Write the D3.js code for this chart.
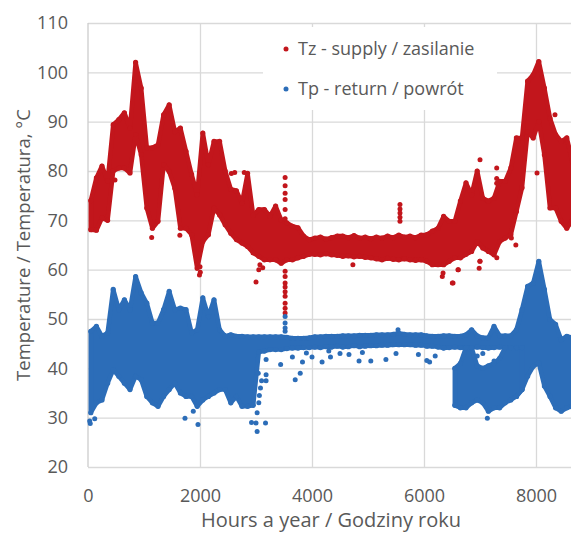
<!DOCTYPE html>
<html>
<head>
<meta charset="utf-8">
<script src="https://cdn.jsdelivr.net/npm/d3@7"></script>
<style>
  html, body { margin: 0; padding: 0; background: #fff; }
  svg { display: block; font-family: "Open Sans", sans-serif; }
</style>
</head>
<body>
<svg id="chart" width="571" height="534"></svg>
<script>
// ---------- data (100-hour bins) ----------
const binStep = 100;                         // hours per bin
const binHours = d3.range(0, 8800, binStep); // bin start hours 0..8700

const supplyHigh = [74, 78.6, 81, 78, 89.4, 90.4, 91.8, 88.7, 102, 96.8,
  84.7, 84.7, 85.3, 91.4, 93.4, 88, 88.7, 84, 79.3, 75.2,
  87.7, 81.3, 86, 86, 80, 76.3, 76, 73.5, 79.5, 71,
  72.2, 72.2, 70.8, 72.9, 70.1, 69.5, 68.8, 68.5, 66.8, 66.1,
  66.4, 66.6, 66.2, 66.5, 66.8, 66.8, 66.5, 66.9, 66.4, 66.6,
  66.3, 66.6, 66.4, 66.8, 66.5, 67, 66.6, 66.8, 66.5, 67,
  67.1, 67.8, 68.4, 70.8, 69.8, 69.8, 73.9, 77.6, 75.2, 80,
  74.5, 73.9, 74.5, 77.9, 77.9, 80.6, 86.7, 86.7, 98.2, 99.5,
  102.2, 96.8, 90.7, 87.4, 86, 86.7, 82, 78];
const supplyLow = [68.1, 68, 70.5, 70, 80, 80.6, 80.6, 79.6, 87.4, 83.3,
  72.5, 68.4, 69.8, 81.3, 79.9, 76.5, 68.4, 68.4, 67.1, 60.3,
  65.7, 67.1, 72.5, 71.1, 69.1, 67.4, 66.1, 65.4, 64.7, 63.4,
  62.7, 62, 62, 62, 61.3, 62, 62, 62.4, 62.7, 63.1,
  63.1, 63, 63.2, 63, 62.9, 62.7, 62.8, 62.6, 62.7, 62.5,
  62.4, 62.2, 62, 62.3, 62.1, 62, 62.2, 62, 61.9, 62,
  61.7, 61, 61, 61, 61.7, 62.4, 62.4, 63.1, 63.7, 65.7,
  64.4, 63.7, 63, 65.7, 66.4, 67.1, 71.8, 76.6, 88, 86.7,
  90, 83.3, 72.5, 72.5, 69.8, 68.4, 70, 68];

const returnHigh = [47.5, 48.5, 46.5, 47.2, 56, 51.9, 53.9, 51.9, 58.6, 55.3,
  53.2, 49.2, 49.2, 51.9, 55.6, 51.9, 52.2, 51.9, 47.2, 47.8,
  54.3, 50.5, 53.9, 47.8, 46.5, 46.8, 46.5, 46.5, 46.4, 46.4,
  46.4, 46.4, 46.4, 46.4, 46.4, 46.3, 46.1, 46.1, 46.1, 46.2,
  46.4, 46.4, 46.5, 46.5, 46.5, 46.6, 46.6, 46.6, 46.7, 46.7,
  46.7, 46.8, 46.8, 46.8, 46.9, 47.1, 46.9, 46.8, 46.8, 46.8,
  46.6, 46.5, 46.5, 46.6, 46.6, 46.5, 46.5, 46.8, 47.8, 46.6,
  46.2, 46.2, 48.5, 46.6, 46.6, 46.6, 47.8, 51.9, 56.6, 57.3,
  61.7, 56, 49.9, 48.9, 45.8, 46.5, 46.2, 46];
const returnLow = [31, 33, 33.6, 37, 39.7, 38.4, 37, 35.7, 38.4, 37.7,
  34.3, 33, 32.3, 34.3, 35.7, 37, 35, 34.3, 34.3, 32.3,
  33.6, 34.3, 35, 35.7, 35.7, 33, 34.3, 32.3, 32.3, 32.5,
  43.3, 43.5, 43.8, 43.8, 43.8, 44, 44.1, 44.1, 44.2, 44.2,
  44.3, 44.2, 44.4, 44.3, 44.5, 44.3, 44.4, 44.6, 44.4, 44.5,
  44.6, 44.6, 44.7, 44.7, 44.8, 44.8, 44.8, 44.8, 44.7, 44.7,
  44.5, 44.5, 44.3, 44.1, 44.2, 44.3, 44.2, 44.1, 44.2, 44.3,
  44.2, 44.1, 44.2, 44.3, 44.2, 44.1, 34.3, 35.7, 38.4, 40.4,
  41.1, 36.4, 34.3, 32, 31.3, 32, 32.3, 33];

// separate lower cluster of the return series, 6500-7700 h
const clusterHours = d3.range(6500, 7800, binStep);
const clusterHigh = [40, 41, 44.2, 44.2, 40.5, 40, 40.5, 41, 42, 44.2, 44.2, 44.2, 44.2];
const clusterLow  = [32.5, 32, 32, 33, 33.6, 33, 31.3, 32, 32, 33, 33.6, 34.3, 35.7];

// isolated points outside the dense bands
const supplyOutlierHours  = [482, 1137, 1640, 1990, 2000, 2005, 2560, 2620, 2790, 3000, 3050, 3120, 3070,
  3520, 3520, 3520, 3520, 3520, 3520, 3520, 3520, 3520, 3520, 3520, 3520, 3520, 3520, 3520,
  4730, 5571, 5571, 5571, 5571, 5571, 6327, 6340, 6506, 6518, 6607, 6613, 6985, 6998, 7000, 7000,
  7298, 7298, 7298, 7300, 7560, 7640, 7684, 8018, 8339];
const supplyOutlierValues = [78.2, 66.5, 67, 58.9, 60.6, 59.5, 79.5, 79.7, 79.7, 57.5, 60, 60.4, 61,
  78.7, 77, 75.5, 74.2, 72.2, 70.3, 59.7, 58.6, 57.3, 56.5, 55.5, 54.6, 53.2, 52.2, 51.2,
  61, 73.2, 72.3, 71.5, 70.6, 69.8, 58.6, 59.3, 57.3, 57.3, 60, 60, 60.3, 61.7, 82.3, 61.7,
  80.6, 78.5, 77.5, 62.4, 66.4, 65, 86, 79.6, 91.4];

const returnOutlierHours  = [30, 40, 120, 1732, 1880, 1964, 2920, 3000, 3020, 3170, 3020, 3050, 3060, 3080,
  3100, 3040, 3180, 3180, 3180, 3700, 3790, 3440, 3520, 3520, 3520, 3520,
  3650, 3830, 3900, 4000, 4180, 4300, 4330, 4500, 4660, 4840, 4900, 5050, 5320, 5500, 5536,
  5900, 6050, 6100, 6200, 7131, 6950, 7250, 7050];
const returnOutlierValues = [29.3, 28.8, 29.8, 29.9, 31.3, 28.6, 29, 28.9, 27.2, 28.9, 31, 33, 34.5, 36,
  37.5, 39, 38.7, 37.5, 41.8, 37.7, 39, 40.8, 50.5, 49.2, 48.2, 47.5,
  42.3, 41.3, 43.1, 42.3, 41.3, 43.5, 42.3, 43, 42.8, 41.5, 43.2, 41.5, 41.8, 43, 47.8,
  42.8, 41.6, 41.3, 42.5, 29.9, 42.5, 41.5, 43];

const xTicks = [0, 2000, 4000, 6000, 8000];
const xGrid = [2000, 4000, 6000, 8000, 10000];
const yTicks = [20, 30, 40, 50, 60, 70, 80, 90, 100, 110];
const seriesNames = ["Tz - supply / zasilanie", "Tp - return / powrót"];

// ---------- drawing ----------
const W = 571, H = 534;
const svg = d3.select("#chart");
const x = d3.scaleLinear().domain([0, 10000]).range([88, 648]);
const y = d3.scaleLinear().domain([20, 110]).range([467, 23]);
const red = "#c2161c", blue = "#2c6db8", gridC = "#d9d9d9", textC = "#595959";
const font = "'Open Sans', sans-serif";

// grid
svg.append("g").attr("transform", `translate(88,0)`)
  .call(d3.axisLeft(y).tickValues(yTicks).tickSize(-(W - 88)).tickFormat(""))
  .call(g => g.select(".domain").remove())
  .call(g => g.selectAll("line").attr("stroke", gridC).attr("stroke-width", 1.3));
svg.append("g").attr("transform", `translate(0,467)`)
  .call(d3.axisBottom(x).tickValues(xGrid).tickSize(-(467 - 23)).tickFormat(""))
  .call(g => g.select(".domain").remove())
  .call(g => g.selectAll("line").attr("stroke", gridC).attr("stroke-width", 1.3));
svg.append("line").attr("x1", x(0)).attr("x2", x(0)).attr("y1", y(110)).attr("y2", y(20))
  .attr("stroke", "#cccccc").attr("stroke-width", 1.3);

// legend background
svg.append("rect").attr("x", 263).attr("y", 27).attr("width", 234).attr("height", 83).attr("fill", "#fff");

function band(hours, high, low, color) {
  const rows = hours.map((h, i) => ({ h: h + binStep / 2, hi: high[i], lo: low[i] }));
  const area = d3.area().x(d => x(d.h)).y0(d => y(d.lo)).y1(d => y(d.hi)).curve(d3.curveLinear);
  svg.append("path").datum(rows).attr("d", area)
    .attr("fill", color).attr("stroke", color).attr("stroke-width", 4.5).attr("stroke-linejoin", "round");
  const g = svg.append("g").attr("fill", color);
  g.selectAll("circle.t").data(rows).join("circle").attr("class", "t")
    .attr("cx", d => x(d.h)).attr("cy", d => y(d.hi)).attr("r", 2.6);
  g.selectAll("circle.b").data(rows).join("circle").attr("class", "b")
    .attr("cx", d => x(d.h)).attr("cy", d => y(d.lo)).attr("r", 2.6);
}
function dots(hours, values, color) {
  svg.append("g").attr("fill", color).selectAll("circle")
    .data(hours.map((h, i) => ({ h, v: values[i] }))).join("circle")
    .attr("cx", d => x(d.h)).attr("cy", d => y(d.v)).attr("r", 2.5);
}
band(binHours, supplyHigh, supplyLow, red);
band(binHours, returnHigh, returnLow, blue);
band(clusterHours, clusterHigh, clusterLow, blue);
dots(supplyOutlierHours, supplyOutlierValues, red);
dots(returnOutlierHours, returnOutlierValues, blue);

// axes labels
svg.append("g").attr("transform", "translate(88,0)")
  .call(d3.axisLeft(y).tickValues(yTicks).tickSize(0).tickPadding(20))
  .call(g => g.select(".domain").remove())
  .call(g => g.selectAll("text").attr("fill", textC).style("font-size", "18px").style("font-family", font));
svg.append("g").attr("transform", "translate(0,467)")
  .call(d3.axisBottom(x).tickValues(xTicks).tickFormat(d3.format("d")).tickSize(0).tickPadding(22))
  .call(g => g.select(".domain").remove())
  .call(g => g.selectAll("text").attr("fill", textC).style("font-size", "18px").style("font-family", font));

svg.append("text").attr("x", 331).attr("y", 527).attr("text-anchor", "middle")
  .attr("fill", textC).style("font-size", "20px").text("Hours a year / Godziny roku");
svg.append("text").attr("transform", "translate(30,245) rotate(-90)").attr("text-anchor", "middle")
  .attr("fill", textC).style("font-size", "18.5px").text("Temperature / Temperatura, °C");

// legend
[red, blue].forEach((c, i) => {
  const cy = 49 + i * 40;
  svg.append("circle").attr("cx", 286).attr("cy", cy).attr("r", 2.5).attr("fill", c);
  svg.append("text").attr("x", 298).attr("y", cy + 6).attr("fill", textC)
    .style("font-size", "18px").text(seriesNames[i]);
});
</script>
</body>
</html>
